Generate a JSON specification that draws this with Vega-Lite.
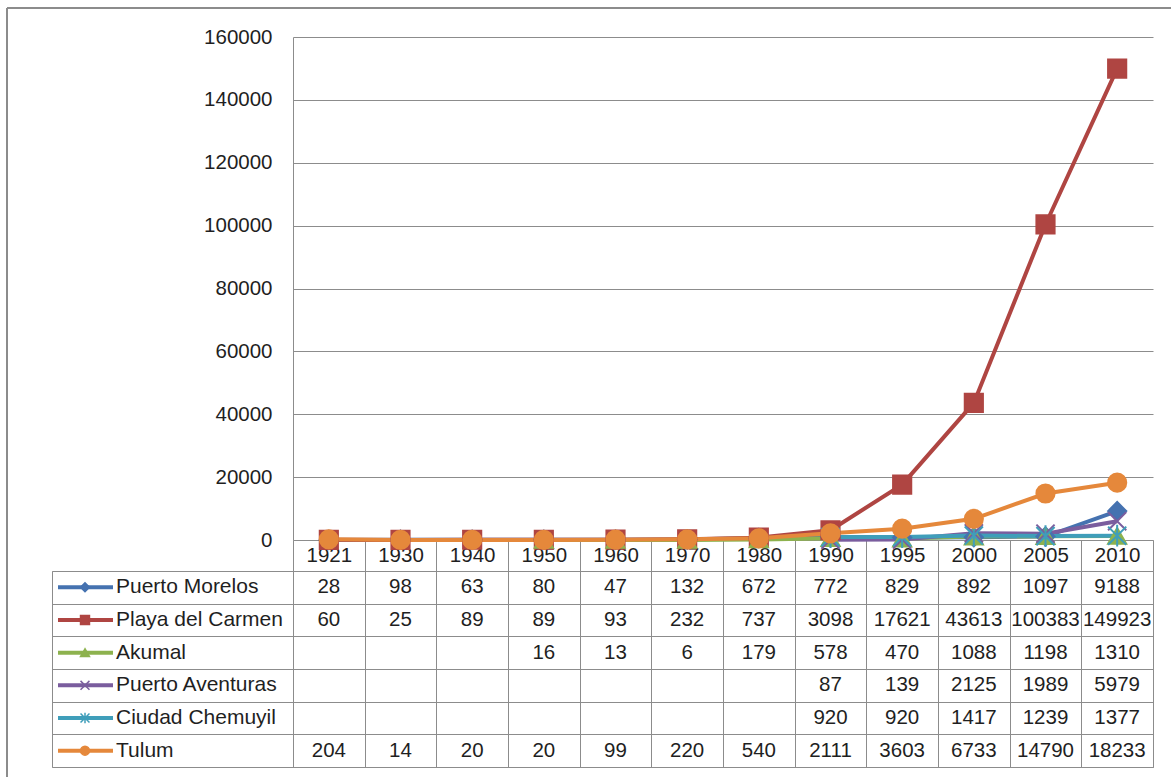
{
  "$schema": "https://vega.github.io/schema/vega-lite/v6.json",
  "padding": {"left": 6, "top": 7, "right": 0, "bottom": 0},
  "background": "white",
  "config": {
    "font": "Liberation Sans",
    "view": {"stroke": null},
    "axis": {"labelFont": "Liberation Sans", "labelColor": "#1f1f1f"},
    "text": {"font": "Liberation Sans"}
  },
  "datasets": {
    "pop": [
      {"s": "Puerto Morelos", "year": "1921", "v": 28},
      {"s": "Puerto Morelos", "year": "1930", "v": 98},
      {"s": "Puerto Morelos", "year": "1940", "v": 63},
      {"s": "Puerto Morelos", "year": "1950", "v": 80},
      {"s": "Puerto Morelos", "year": "1960", "v": 47},
      {"s": "Puerto Morelos", "year": "1970", "v": 132},
      {"s": "Puerto Morelos", "year": "1980", "v": 672},
      {"s": "Puerto Morelos", "year": "1990", "v": 772},
      {"s": "Puerto Morelos", "year": "1995", "v": 829},
      {"s": "Puerto Morelos", "year": "2000", "v": 892},
      {"s": "Puerto Morelos", "year": "2005", "v": 1097},
      {"s": "Puerto Morelos", "year": "2010", "v": 9188},
      {"s": "Playa del Carmen", "year": "1921", "v": 60},
      {"s": "Playa del Carmen", "year": "1930", "v": 25},
      {"s": "Playa del Carmen", "year": "1940", "v": 89},
      {"s": "Playa del Carmen", "year": "1950", "v": 89},
      {"s": "Playa del Carmen", "year": "1960", "v": 93},
      {"s": "Playa del Carmen", "year": "1970", "v": 232},
      {"s": "Playa del Carmen", "year": "1980", "v": 737},
      {"s": "Playa del Carmen", "year": "1990", "v": 3098},
      {"s": "Playa del Carmen", "year": "1995", "v": 17621},
      {"s": "Playa del Carmen", "year": "2000", "v": 43613},
      {"s": "Playa del Carmen", "year": "2005", "v": 100383},
      {"s": "Playa del Carmen", "year": "2010", "v": 149923},
      {"s": "Akumal", "year": "1950", "v": 16},
      {"s": "Akumal", "year": "1960", "v": 13},
      {"s": "Akumal", "year": "1970", "v": 6},
      {"s": "Akumal", "year": "1980", "v": 179},
      {"s": "Akumal", "year": "1990", "v": 578},
      {"s": "Akumal", "year": "1995", "v": 470},
      {"s": "Akumal", "year": "2000", "v": 1088},
      {"s": "Akumal", "year": "2005", "v": 1198},
      {"s": "Akumal", "year": "2010", "v": 1310},
      {"s": "Puerto Aventuras", "year": "1990", "v": 87},
      {"s": "Puerto Aventuras", "year": "1995", "v": 139},
      {"s": "Puerto Aventuras", "year": "2000", "v": 2125},
      {"s": "Puerto Aventuras", "year": "2005", "v": 1989},
      {"s": "Puerto Aventuras", "year": "2010", "v": 5979},
      {"s": "Ciudad Chemuyil", "year": "1990", "v": 920},
      {"s": "Ciudad Chemuyil", "year": "1995", "v": 920},
      {"s": "Ciudad Chemuyil", "year": "2000", "v": 1417},
      {"s": "Ciudad Chemuyil", "year": "2005", "v": 1239},
      {"s": "Ciudad Chemuyil", "year": "2010", "v": 1377},
      {"s": "Tulum", "year": "1921", "v": 204},
      {"s": "Tulum", "year": "1930", "v": 14},
      {"s": "Tulum", "year": "1940", "v": 20},
      {"s": "Tulum", "year": "1950", "v": 20},
      {"s": "Tulum", "year": "1960", "v": 99},
      {"s": "Tulum", "year": "1970", "v": 220},
      {"s": "Tulum", "year": "1980", "v": 540},
      {"s": "Tulum", "year": "1990", "v": 2111},
      {"s": "Tulum", "year": "1995", "v": 3603},
      {"s": "Tulum", "year": "2000", "v": 6733},
      {"s": "Tulum", "year": "2005", "v": 14790},
      {"s": "Tulum", "year": "2010", "v": 18233}
    ],
    "series": [
      {"s": "Puerto Morelos"},
      {"s": "Playa del Carmen"},
      {"s": "Akumal"},
      {"s": "Puerto Aventuras"},
      {"s": "Ciudad Chemuyil"},
      {"s": "Tulum"}
    ]
  },
  "columns": 2,
  "spacing": {"row": 31, "column": 0},
  "bounds": "flush",
  "align": "each",
  "concat": [
    {
      "width": 241,
      "height": 503,
      "data": {"values": [{}]},
      "layer": [
        {
          "mark": {"type": "rule", "stroke": "#8c8c8c", "strokeWidth": 2},
          "encoding": {
            "x": {"datum": -45, "type": "quantitative", "scale": {"domain": [0, 241], "nice": false, "zero": false}, "axis": null},
            "y": {"datum": -29, "type": "quantitative", "scale": {"domain": [0, 503], "reverse": true, "nice": false, "zero": false}, "axis": null},
            "y2": {"datum": 740}
          }
        },
        {
          "mark": {"type": "rule", "stroke": "#8c8c8c", "strokeWidth": 2},
          "encoding": {
            "x": {"datum": -45, "type": "quantitative"},
            "x2": {"datum": 1119},
            "y": {"datum": -29, "type": "quantitative"}
          }
        }
      ]
    },
    {
      "width": 860,
      "height": 503,
      "data": {"name": "pop"},
      "encoding": {
        "x": {
          "field": "year", "type": "ordinal", "bandPosition": 0.5,
          "scale": {"type": "band", "paddingInner": 0, "paddingOuter": 0},
          "axis": {
            "title": null, "grid": false, "tickBand": "extent", "tickSize": 31,
            "tickColor": "#8c8c8c", "domainColor": "#8c8c8c", "labelFontSize": 20.5,
            "labelPadding": -15.5, "labelBaseline": "middle", "labelAngle": 0, "labelOverlap": false
          }
        },
        "y": {
          "field": "v", "type": "quantitative",
          "scale": {"domain": [0, 160000], "nice": false},
          "axis": {
            "title": null, "values": [0, 20000, 40000, 60000, 80000, 100000, 120000, 140000, 160000],
            "format": "d", "ticks": false, "labelPadding": 21, "labelFontSize": 20.5,
            "grid": true, "gridColor": "#8c8c8c", "domainColor": "#8c8c8c"
          }
        }
      },
      "layer": [
        {
          "mark": {"type": "line", "strokeWidth": 4},
          "encoding": {
            "color": {
              "field": "s", "type": "nominal", "legend": null,
              "scale": {
                "domain": ["Puerto Morelos", "Playa del Carmen", "Akumal", "Puerto Aventuras", "Ciudad Chemuyil", "Tulum"],
                "range": ["#4572B0", "#AF4542", "#8DB24E", "#7A5D9E", "#3F9EBA", "#E5883B"]
              }
            }
          }
        },
        {
          "mark": {"type": "point", "filled": true, "size": 330, "strokeWidth": 2, "opacity": 1},
          "encoding": {
            "shape": {
              "field": "s", "type": "nominal", "legend": null,
              "scale": {
                "domain": ["Puerto Morelos", "Playa del Carmen", "Akumal", "Puerto Aventuras", "Ciudad Chemuyil", "Tulum"],
                "range": ["diamond", "square", "triangle-up", "M-1,-1L1,1M-1,1L1,-1", "M-1,-1L1,1M-1,1L1,-1M0,-1.2L0,1.2", "circle"]
              }
            },
            "fill": {
              "field": "s", "type": "nominal", "legend": null,
              "scale": {
                "domain": ["Puerto Morelos", "Playa del Carmen", "Akumal", "Puerto Aventuras", "Ciudad Chemuyil", "Tulum"],
                "range": ["#4572B0", "#AF4542", "#8DB24E", "#7A5D9E", "#3F9EBA", "#E5883B"]
              }
            },
            "stroke": {
              "field": "s", "type": "nominal", "legend": null,
              "scale": {
                "domain": ["Puerto Morelos", "Playa del Carmen", "Akumal", "Puerto Aventuras", "Ciudad Chemuyil", "Tulum"],
                "range": ["#4572B0", "#AF4542", "#8DB24E", "#7A5D9E", "#3F9EBA", "#E5883B"]
              }
            }
          }
        }
      ]
    },
    {
      "width": 241,
      "height": 196,
      "view": {"stroke": "#8c8c8c"},
      "data": {"name": "series"},
      "encoding": {
        "y": {
          "field": "s", "type": "nominal", "bandPosition": 0.5,
          "scale": {
            "domain": ["Puerto Morelos", "Playa del Carmen", "Akumal", "Puerto Aventuras", "Ciudad Chemuyil", "Tulum"],
            "paddingInner": 0, "paddingOuter": 0
          },
          "axis": {"title": null, "labels": false, "ticks": false, "domain": false, "grid": true, "tickBand": "extent", "gridColor": "#8c8c8c"}
        }
      },
      "layer": [
        {
          "mark": {"type": "rule", "strokeWidth": 4},
          "encoding": {
            "x": {"datum": 6, "type": "quantitative", "scale": {"domain": [0, 241], "nice": false, "zero": false}, "axis": null},
            "x2": {"datum": 61},
            "color": {
              "field": "s", "type": "nominal", "legend": null,
              "scale": {
                "domain": ["Puerto Morelos", "Playa del Carmen", "Akumal", "Puerto Aventuras", "Ciudad Chemuyil", "Tulum"],
                "range": ["#4572B0", "#AF4542", "#8DB24E", "#7A5D9E", "#3F9EBA", "#E5883B"]
              }
            }
          }
        },
        {
          "mark": {"type": "point", "filled": true, "size": 80, "strokeWidth": 1.5, "opacity": 1},
          "encoding": {
            "x": {"datum": 33, "type": "quantitative"},
            "shape": {
              "field": "s", "type": "nominal", "legend": null,
              "scale": {
                "domain": ["Puerto Morelos", "Playa del Carmen", "Akumal", "Puerto Aventuras", "Ciudad Chemuyil", "Tulum"],
                "range": ["diamond", "square", "triangle-up", "M-1,-1L1,1M-1,1L1,-1", "M-1,-1L1,1M-1,1L1,-1M0,-1.2L0,1.2", "circle"]
              }
            },
            "fill": {
              "field": "s", "type": "nominal", "legend": null,
              "scale": {
                "domain": ["Puerto Morelos", "Playa del Carmen", "Akumal", "Puerto Aventuras", "Ciudad Chemuyil", "Tulum"],
                "range": ["#4572B0", "#AF4542", "#8DB24E", "#7A5D9E", "#3F9EBA", "#E5883B"]
              }
            },
            "stroke": {
              "field": "s", "type": "nominal", "legend": null,
              "scale": {
                "domain": ["Puerto Morelos", "Playa del Carmen", "Akumal", "Puerto Aventuras", "Ciudad Chemuyil", "Tulum"],
                "range": ["#4572B0", "#AF4542", "#8DB24E", "#7A5D9E", "#3F9EBA", "#E5883B"]
              }
            }
          }
        },
        {
          "mark": {"type": "text", "align": "left", "baseline": "middle", "fontSize": 21, "color": "#1f1f1f"},
          "encoding": {
            "x": {"datum": 64, "type": "quantitative"},
            "text": {"field": "s", "type": "nominal"}
          }
        }
      ]
    },
    {
      "width": 860,
      "height": 196,
      "view": {"stroke": "#8c8c8c"},
      "data": {"name": "pop"},
      "mark": {"type": "text", "fontSize": 20.5, "color": "#1f1f1f", "baseline": "middle", "align": "center"},
      "encoding": {
        "x": {
          "field": "year", "type": "ordinal", "bandPosition": 0.5,
          "scale": {"type": "band", "paddingInner": 0, "paddingOuter": 0},
          "axis": {"title": null, "labels": false, "ticks": false, "domain": false, "grid": true, "tickBand": "extent", "gridColor": "#8c8c8c"}
        },
        "y": {
          "field": "s", "type": "nominal", "bandPosition": 0.5,
          "scale": {
            "domain": ["Puerto Morelos", "Playa del Carmen", "Akumal", "Puerto Aventuras", "Ciudad Chemuyil", "Tulum"],
            "paddingInner": 0, "paddingOuter": 0
          },
          "axis": {"title": null, "labels": false, "ticks": false, "domain": false, "grid": true, "tickBand": "extent", "gridColor": "#8c8c8c"}
        },
        "text": {"field": "v", "type": "quantitative", "format": "d"}
      }
    }
  ]
}
